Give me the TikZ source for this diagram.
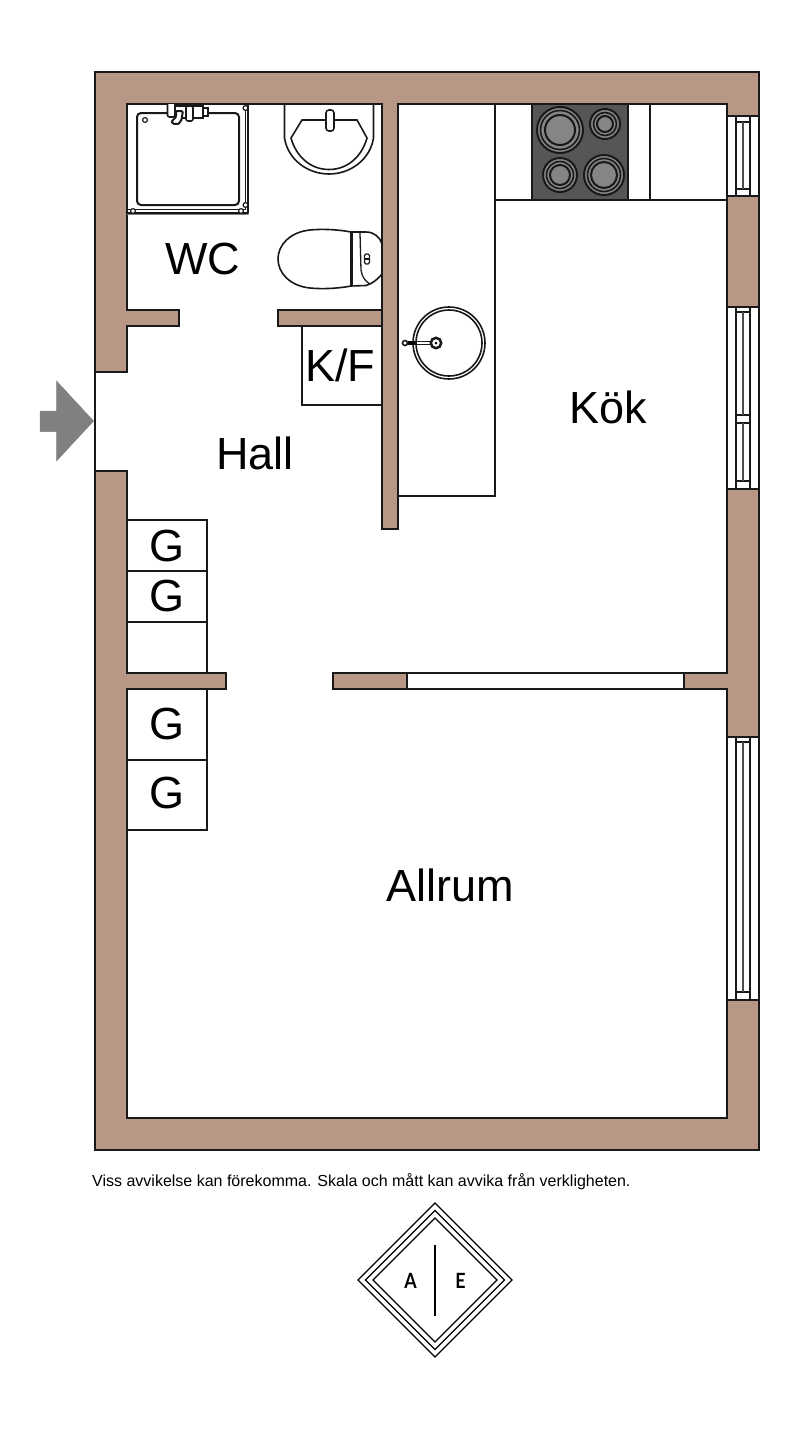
\documentclass[tikz,border=0pt]{standalone}
\usepackage{fontspec}
\setmainfont{Liberation Sans}
\newfontfamily\logofont{Lato}
\definecolor{wallbrown}{HTML}{B99787}
\definecolor{hobgrey}{HTML}{565656}
\definecolor{plategrey}{HTML}{858585}
\tikzset{
  wall/.style={fill=wallbrown,draw=black!90,line width=2pt},
  room/.style={fill=white,draw=black!90,line width=2pt},
  fixture/.style={draw=black!90,line width=1.6pt},
  roomlabel/.style={font=\fontsize{45}{45}\selectfont,inner sep=0pt},
  logoletter/.style={inner sep=0pt,font=\logofont\bfseries\fontsize{21}{21}\selectfont,
    xscale=0.85,transform shape},
}
\begin{document}
\begin{tikzpicture}[x=1pt,y=-1pt]
  \useasboundingbox (0,0) rectangle (800,1430);

  \draw [wall] (95,72) rectangle (759,1150);
  \draw [room] (127,104) -- (382,104) -- (382,529) -- (398,529) -- (398,104)
    -- (727,104) -- (727,673) -- (684,673) -- (684,689) -- (727,689)
    -- (727,1118) -- (127,1118) -- (127,689) -- (226,689) -- (226,673)
    -- (127,673) -- (127,471) -- (95,471) -- (95,372) -- (127,372)
    -- (127,326) -- (179,326) -- (179,310) -- (127,310) -- cycle;
  \draw [wall] (278,310) rectangle (382,326);
  \draw [wall] (333,673) rectangle (407,689);
  \draw [room] (407,673) rectangle (684,689);

  % windows
  \foreach\ya/\yb/\yc/\yd in {116/122/189/196,307/312/481/489,737/742/992/1000}
  {
    \fill [white] (728,\ya) rectangle (758,\yd);
    \draw [fixture] (727,\ya) -- (727,\yd) (759,\ya) -- (759,\yd);
    \draw [fixture] (736,\ya) -- (736,\yd) (750,\ya) -- (750,\yd);
    \draw [fixture] (736,\yb) -- (750,\yb) (736,\yc) -- (750,\yc);
    \draw [fixture] (727,\ya) -- (759,\ya) (727,\yd) -- (759,\yd);
  }
  \fill [white] (737,415) rectangle (749,423);
  \draw [fixture] (736,415) -- (750,415) (736,423) -- (750,423);
  \draw [line width=2.2pt,black!70] (743,122) -- (743,189);
  \draw [line width=2.2pt,black!70] (743,312) -- (743,415);
  \draw [line width=2.2pt,black!70] (743,423) -- (743,481);
  \draw [line width=2.2pt,black!70] (743,742) -- (743,992);

  % shower
  \draw [black!50,line width=0.7pt] (127,214.5) -- (248.5,214.5) -- (248.5,104);
  \draw [fixture] (127,209.5) -- (245.5,209.5) -- (245.5,104);
  \draw [fixture] (127,213) -- (248,213) (248,104) -- (248,213);
  \draw [fixture,line width=2pt,rounded corners=4pt] (137,113) rectangle (239,205);
  \foreach\cx/\cy in {145/120,245.5/108,245.5/205,133/211,241/211}
  \draw [fixture,fill=white,line width=1.2pt] (\cx,\cy) circle (2.4);
  \draw [fixture,fill=white,rounded corners=2pt] (167.5,104) -- (167.5,117) -- (175,117)
    -- (175,104);
  \draw [fixture,fill=white] (175,106) -- (203,106) -- (203,118) -- (175,118) -- cycle;
  \draw [fixture,fill=white,line width=2pt,rounded corners=2pt] (175,111) -- (183,111)
    -- (181,122) -- (176,125) -- (171,122) -- (177,116) -- cycle;
  \draw [fixture,fill=white,rounded corners=2pt] (186,106) rectangle (193,121);
  \draw [fixture,fill=white] (203,108) rectangle (208,116);

  % washbasin
  \draw [fixture] (284.5,104) -- (284.5,138)
    .. controls (288,160) and (308,174) .. (329,174)
    .. controls (350,174) and (370,160) .. (373.5,138) -- (373.5,104);
  \draw [fixture] (302,120) -- (357,120) -- (367,138)
    .. controls (362,156) and (348,169.5) .. (329,169.5)
    .. controls (310,169.5) and (296,156) .. (291,138) -- cycle;
  \draw [fixture,fill=white,rounded corners=3pt] (326,110) rectangle (334,131);

  % toilet
  \draw [fixture] (351,232)
    .. controls (335,229) and (320,229) .. (310,230)
    .. controls (290,232) and (278,245) .. (278,259)
    .. controls (278,273) and (290,286) .. (310,288)
    .. controls (320,289) and (335,289) .. (351,286);
  \draw [fixture,line width=2.2pt] (351.5,232) -- (351.5,286);
  \draw [fixture] (351,232) -- (366,232) .. controls (374,232) and (380,237) .. (382,244);
  \draw [fixture] (351,286) -- (366,285.5) .. controls (372,284) and (378,279) .. (382,274);
  \draw [fixture,line width=1.3pt] (360,233) -- (361,270) .. controls (362,277) and (365,281) .. (370,284);
  \draw [fixture,line width=1.2pt,rounded corners=1.5pt] (364.5,254) rectangle (369.5,264);
  \draw [fixture,line width=1.2pt] (364.5,259) -- (369.5,259);

  % kitchen
  \draw [fixture] (495,104) -- (495,496) -- (398,496);
  \draw [fixture] (495,200) -- (727,200);
  \draw [fixture] (650,104) -- (650,200);
  \draw [fixture,fill=hobgrey] (532,104) rectangle (628,200);
  \foreach\cx/\cy/\ra/\rb/\rc in {560/130/23/19.5/15,605/124/15/11.5/8,
    560/175/17/13.5/10,604/175/20/16.5/13}
  {
    \draw [fixture,line width=2pt,fill=plategrey] (\cx,\cy) circle (\ra);
    \draw [fixture,fill=plategrey] (\cx,\cy) circle (\rb);
    \draw [fixture,line width=2pt,fill=plategrey] (\cx,\cy) circle (\rc);
  }

  % sink
  \draw [fixture] (449,343) circle (36);
  \draw [fixture] (449,343) circle (33);
  \draw [fixture,line width=1.2pt] (408,341.5) -- (436,341.5) (408,344.5) -- (436,344.5);
  \draw [line width=4pt] (408,343) -- (415,343);
  \draw [fixture,fill=white] (405,343) circle (2.5);
  \draw [fixture,fill=white,line width=2.5pt] (436,343) circle (5.2);
  \fill (436,343) circle (1.5);

  % cupboards
  \draw [fixture] (302,326) rectangle (382,405);
  \foreach\ya/\yb in {520/571,571/622,622/673,689/760,760/830}
  \draw [fixture] (127,\ya) rectangle (207,\yb);

  \node [roomlabel] (wc) at (202.5,259) {WC};
  \node [roomlabel] (kf) at (340,365) {K/F};
  \node [roomlabel] (hall) at (255,453) {Hall};
  \node [roomlabel] (kok) at (608.5,407) {Kök};
  \node [roomlabel] (allrum) at (450.5,885) {Allrum};
  \node [roomlabel] (ga) at (166.5,546) {G};
  \node [roomlabel] (gb) at (166.5,596) {G};
  \node [roomlabel] (gc) at (166.5,724) {G};
  \node [roomlabel] (gd) at (166.5,793) {G};

  % entrance arrow
  \draw [fill=black!50,draw=black!50,line width=0.5pt] (40,411) -- (56.5,411)
    -- (56.5,381) -- (93.5,421) -- (56.5,461) -- (56.5,431.5) -- (40,431.5) -- cycle;

  \node [anchor=base west,inner sep=0pt,font=\fontsize{16}{16}\selectfont]
    (note) at (92,1186) {Viss avvikelse kan förekomma. Skala och mått kan avvika från verkligheten.};

  % logo
  \foreach\r in {77,69.5,62}
  \draw [line width=1.3pt] (435,1280-\r) -- (435+\r,1280) -- (435,1280+\r)
    -- (435-\r,1280) -- cycle;
  \draw [line width=1.3pt] (435,1245) -- (435,1316);
  \node [logoletter] (logoa) at (410.5,1281) {A};
  \node [logoletter] (logoe) at (460.5,1281) {E};
\end{tikzpicture}
\end{document}
